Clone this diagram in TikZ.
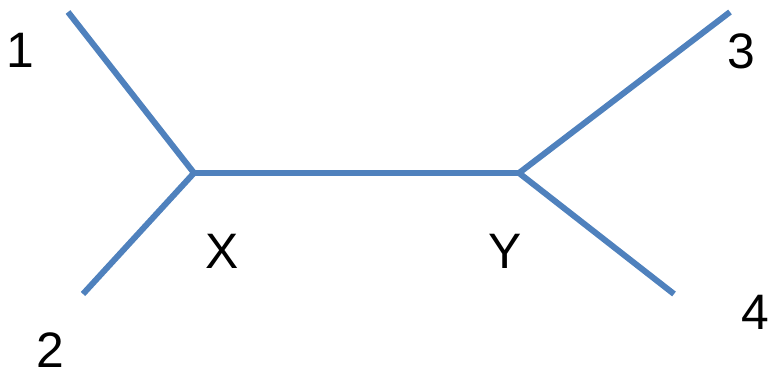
\documentclass[tikz,border=0pt]{standalone}
\usepackage{fontspec}
\setmainfont{Liberation Sans}
\definecolor{edgeblue}{RGB}{79,129,189}
\begin{document}
\begin{tikzpicture}[x=1bp,y=-1bp,
  edge/.style={edgeblue,line width=6bp},
  lbl/.style={inner sep=0pt,font=\fontsize{50}{50}\selectfont}]
\useasboundingbox (0,0) rectangle (770,375);
\coordinate (x) at (194,173);
\coordinate (y) at (519,173);
\coordinate (l1) at (68,12);
\coordinate (l2) at (83,294);
\coordinate (l3) at (730,12);
\coordinate (l4) at (674,294);
\draw[edge] (l1) -- (x) -- (l2);
\draw[edge] (x) -- (y);
\draw[edge] (l3) -- (y) -- (l4);
\node[lbl] (n1) at (20,50) {1};
\node[lbl] (n2) at (50,350) {2};
\node[lbl] (n3) at (741,51) {3};
\node[lbl] (n4) at (755,312) {4};
\node[lbl] (nx) at (222,251) {X};
\node[lbl] (ny) at (505,251) {Y};
\end{tikzpicture}
\end{document}
